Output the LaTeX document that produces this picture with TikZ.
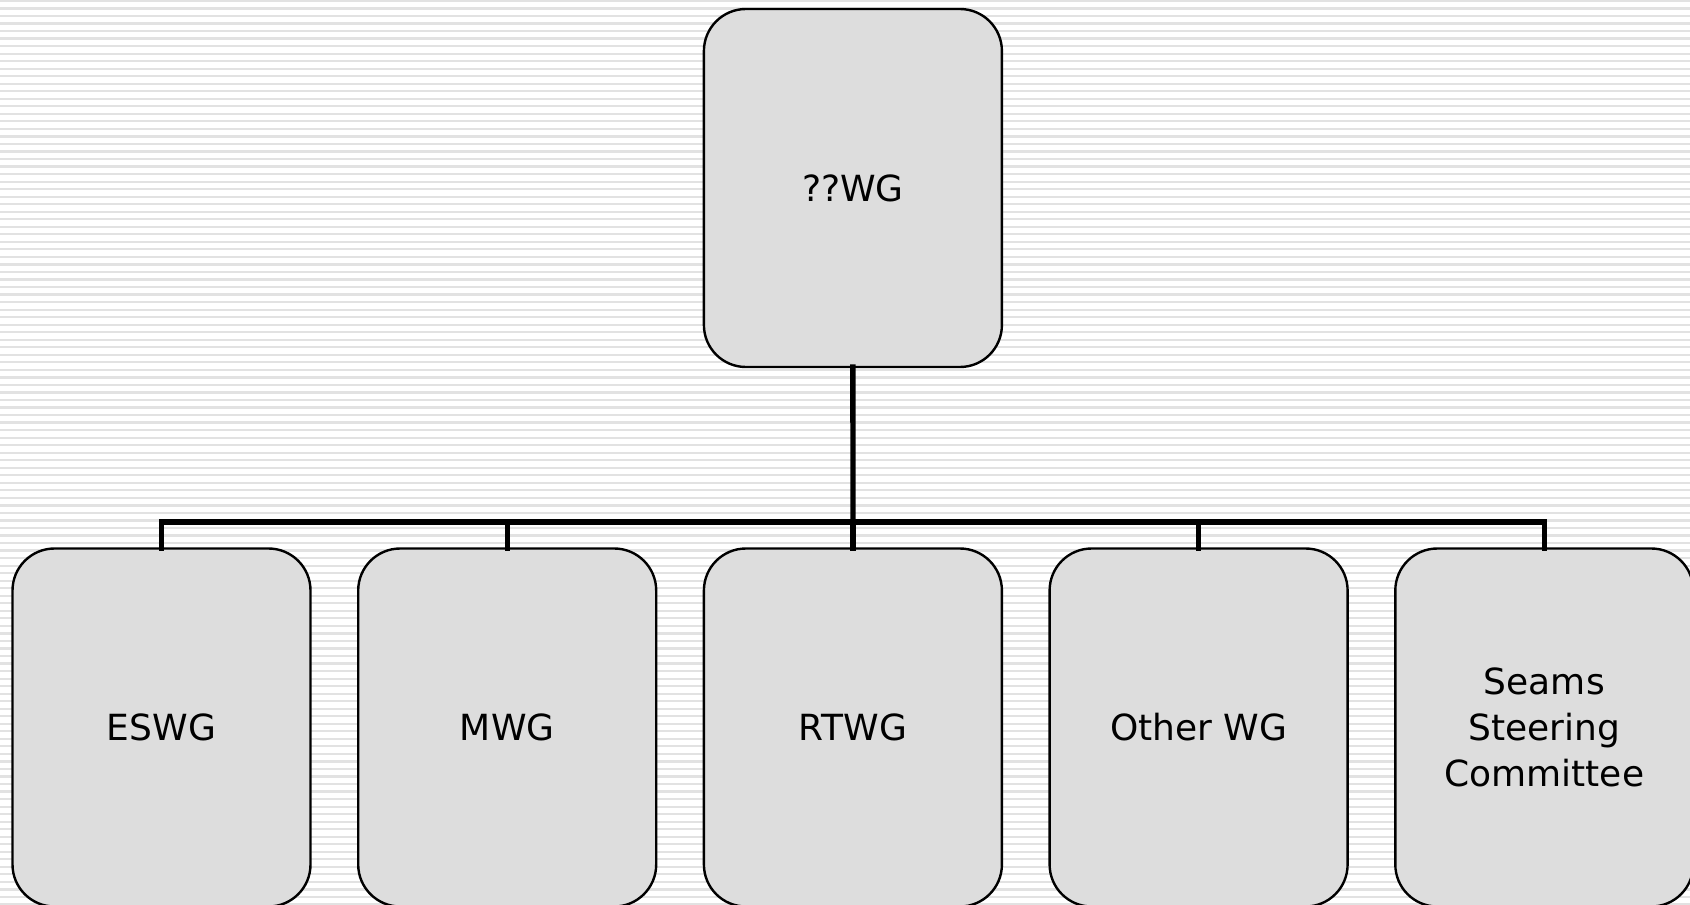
\documentclass[tikz,border=0pt]{standalone}
\usepackage{fontspec}
\setmainfont{DejaVu Sans}
\usepackage{xcolor}
\definecolor{boxgray}{RGB}{221,221,221}
\definecolor{stripegray}{RGB}{226,226,226}

\begin{document}
\begin{tikzpicture}[x=0.5pt,y=-0.5pt,node distance=172.85pt]
  \tikzstyle{wgbox}=[draw=black,fill=boxgray,line width=1.2pt,rounded corners=21pt,
                     minimum width=149pt,minimum height=179pt,outer sep=0pt,align=center,
                     font=\fontsize{18pt}{23pt}\selectfont]
  \tikzstyle{link}=[line width=2.7pt,line cap=rect]
  \tikzstyle{stripe}=[stripegray,line width=1.1pt]

  \useasboundingbox (0,0) rectangle (1690,904);
  \clip (0,0) rectangle (1690,904);
  \fill[white] (0,0) rectangle (1690,904);
  \foreach \i in {0,...,120}
    \draw[stripe] (0,{\i*7.53+0.9}) -- (1690,{\i*7.53+0.9});

  \node[wgbox]         (eswg)  at (161.5,727.5) {ESWG};
  \node[wgbox]         (mwg)   [right of=eswg] {MWG};
  \node[wgbox]         (rtwg)  [right of=mwg]  {RTWG};
  \node[wgbox]         (other) [right of=rtwg] {Other WG};
  \node[wgbox]         (seams) [right of=other] {Seams\\Steering\\Committee};
  \node[wgbox]         (top)   [above of=rtwg, node distance=269.75pt] {??WG};

  \coordinate (bus) at (853,522);
  \draw[link] (top.south) -- (bus);
  \draw[link] (eswg.north) -- (eswg.north |- bus) -- (seams.north |- bus) -- (seams.north);
  \foreach \n in {mwg,rtwg,other}
    \draw[link] (\n.north) -- (\n.north |- bus);
\end{tikzpicture}
\end{document}
